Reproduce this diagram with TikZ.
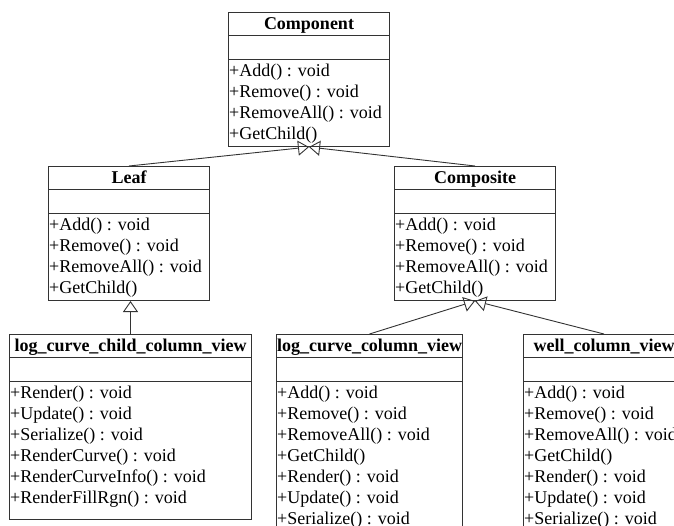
\documentclass[tikz,border=0pt]{standalone}
\usepackage{fontspec}
\setmainfont{Liberation Serif}
\usetikzlibrary{arrows.meta}
\definecolor{umlline}{HTML}{333333}
\tikzset{
  classbox/.style={draw=umlline, line width=1pt, rectangle, anchor=north west,
    inner sep=0pt, minimum width=#1, fill=white},
  classtitle/.style={anchor=base, inner sep=0pt, font=\fontsize{18}{21}\selectfont\bfseries},
  member/.style={anchor=base west, inner sep=0pt, font=\fontsize{18}{21}\selectfont},
  compartment/.style={draw=umlline, line width=1pt},
  generalize/.style={draw=umlline, line width=0.9pt,
    -{Triangle[open, length=11pt, width=15pt]}},
}
% #1 name, #2 top-left corner, #3 width, #4 height, #5 class name, #6 operations
\newcommand\umlclass[6]{%
  \node[classbox=#3, minimum height=#4] (#1) at #2 {};
  \node[classtitle] (#1-title) at ([yshift=-17pt]#1.north) {#5};
  \draw[compartment] ([yshift=-23pt]#1.north west) -- ([yshift=-23pt]#1.north east);
  \draw[compartment] ([yshift=-47pt]#1.north west) -- ([yshift=-47pt]#1.north east);
  \foreach \m [count=\k] in {#6} {
    \node[member] (#1-m\k) at ([xshift=1pt, yshift={-64pt-21pt*(\k-1)}]#1.north west) {\m};
  }%
}
\begin{document}
\begin{tikzpicture}[x=1pt, y=-1pt]
  \useasboundingbox (0,0) rectangle (674,525);
  \clip (0,0) rectangle (674,525);

  \umlclass{component}{(228,12)}{161pt}{134pt}{Component}
    {{+Add() : void},{+Remove() : void},{+RemoveAll() : void},{+GetChild()}}
  \umlclass{leaf}{(48,166)}{161pt}{134pt}{Leaf}
    {{+Add() : void},{+Remove() : void},{+RemoveAll() : void},{+GetChild()}}
  \umlclass{composite}{(394,166)}{161pt}{134pt}{Composite}
    {{+Add() : void},{+Remove() : void},{+RemoveAll() : void},{+GetChild()}}
  \umlclass{child}{(9,334)}{242pt}{185pt}{log\_curve\_child\_column\_view}
    {{+Render() : void},{+Update() : void},{+Serialize() : void},
     {+RenderCurve() : void},{+RenderCurveInfo() : void},{+RenderFillRgn() : void}}
  \umlclass{lcv}{(276,334)}{186pt}{260pt}{log\_curve\_column\_view}
    {{+Add() : void},{+Remove() : void},{+RemoveAll() : void},{+GetChild()},
     {+Render() : void},{+Update() : void},{+Serialize() : void}}
  \umlclass{well}{(523,334)}{161pt}{260pt}{well\_column\_view}
    {{+Add() : void},{+Remove() : void},{+RemoveAll() : void},{+GetChild()},
     {+Render() : void},{+Update() : void},{+Serialize() : void}}

  % generalization arrows
  \draw[generalize] (leaf.north) -- (component.south);
  \draw[generalize] (composite.north) -- (component.south);
  \draw[generalize] (child.north) -- (child.north |- leaf.south);
  \draw[generalize] (lcv.north) -- (composite.south);
  \draw[generalize] (well.north) -- (composite.south);
\end{tikzpicture}
\end{document}
